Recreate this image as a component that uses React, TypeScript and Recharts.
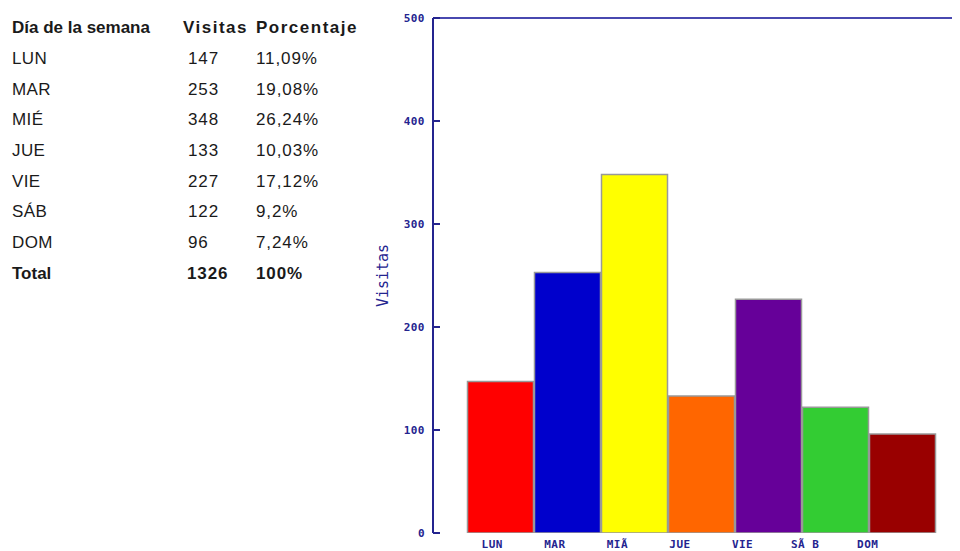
import React from "react"
import { BarChart, Bar, Cell, XAxis, YAxis, ReferenceLine } from "recharts"

// visits per weekday
const days = ["LUN", "MAR", "MIÉ", "JUE", "VIE", "SÁB", "DOM"]
const axisLabels = ["LUN", "MAR", "MIÃ", "JUE", "VIE", "SÃ B", "DOM"]
const visits = [147, 253, 348, 133, 227, 122, 96]
const percents = ["11,09%", "19,08%", "26,24%", "10,03%", "17,12%", "9,2%", "7,24%"]
const barColors = ["#ff0000", "#0000cc", "#ffff00", "#ff6600", "#660099", "#33cc33", "#990000"]
const yTicks = [0, 100, 200, 300, 400, 500]
const totalVisits = "1326"
const totalPercent = "100%"

const navy = "#24248f"
const tickFont = { fontFamily: "'DejaVu Sans Mono', monospace", fontSize: 11, fontWeight: 700, fill: navy, letterSpacing: 0.5 }

const chartData = axisLabels.map((label, i) => ({ label, visits: visits[i] }))

const YLabel = (props: any) => {
  const vb = props.viewBox || {}
  const x = vb.x + 35
  const y = vb.y + vb.height / 2
  return (
    <text
      x={x}
      y={y}
      transform={`rotate(-90, ${x}, ${y})`}
      textAnchor="middle"
      dominantBaseline="central"
      fill={navy}
      style={{ fontFamily: "'DejaVu Sans Mono', monospace", fontSize: 15 }}
    >
      Visitas
    </text>
  )
}

const cell: React.CSSProperties = { padding: 0, height: 30.7, whiteSpace: "nowrap" }
const numCell: React.CSSProperties = { ...cell, letterSpacing: 0.9 }
const headCell: React.CSSProperties = { ...cell, letterSpacing: 1.5 }

export default function App() {
  return (
    <div style={{ position: "relative", width: 952, height: 543, overflow: "hidden" }}>
      <table
        style={{
          position: "absolute",
          left: 4,
          top: 5,
          borderCollapse: "collapse",
          fontFamily: "'Liberation Sans', Arial, sans-serif",
          fontSize: 17,
          color: "#1a1a1a",
        }}
      >
        <colgroup>
          <col style={{ width: 171 }} />
          <col style={{ width: 73 }} />
          <col />
        </colgroup>
        <tbody>
          <tr style={{ fontWeight: 700 }}>
            <td style={cell}>Día de la semana</td>
            <td style={headCell}>Visitas</td>
            <td style={headCell}>Porcentaje</td>
          </tr>
          {days.map((d, i) => (
            <tr key={d}>
              <td style={{ ...cell, letterSpacing: 0.4 }}>{d}</td>
              <td style={{ ...numCell, paddingLeft: 5 }}>{visits[i]}</td>
              <td style={numCell}>{percents[i]}</td>
            </tr>
          ))}
          <tr style={{ fontWeight: 700 }}>
            <td style={cell}>Total</td>
            <td style={{ ...numCell, paddingLeft: 4 }}>{totalVisits}</td>
            <td style={numCell}>{totalPercent}</td>
          </tr>
        </tbody>
      </table>

      <div style={{ position: "absolute", left: 0, top: 0 }}>
        <BarChart
          width={980}
          height={543}
          data={chartData}
          margin={{ top: 10, right: 18, bottom: 0, left: 340 }}
          barCategoryGap={0.5}
        >
          {/* axis the bars sit on */}
          <XAxis
            xAxisId="bars"
            dataKey="label"
            height={0}
            padding={{ left: 34, right: 34 }}
            axisLine={{ stroke: navy, strokeWidth: 2 }}
            tickLine={false}
            tick={false}
          />
          {/* day names run on a slightly narrower band scale */}
          <XAxis
            xAxisId="names"
            dataKey="label"
            height={18}
            padding={{ left: 28, right: 71 }}
            axisLine={false}
            tickLine={false}
            tickSize={0}
            tickMargin={7}
            tick={tickFont}
            interval={0}
          />
          <YAxis
            width={85}
            domain={[0, 500]}
            ticks={yTicks}
            allowDataOverflow
            axisLine={{ stroke: navy, strokeWidth: 2 }}
            tickLine={{ stroke: navy, strokeWidth: 2 }}
            tickSize={-7}
            tickMargin={15}
            tick={tickFont}
            label={<YLabel />}
          />
          <ReferenceLine xAxisId="bars" y={500} stroke="#4848b0" strokeWidth={2} ifOverflow="visible" />
          <Bar xAxisId="bars" dataKey="visits" stroke="#999999" strokeWidth={1.5} isAnimationActive={false}>
            {chartData.map((d, i) => (
              <Cell key={d.label} fill={barColors[i]} />
            ))}
          </Bar>
        </BarChart>
      </div>
    </div>
  )
}
